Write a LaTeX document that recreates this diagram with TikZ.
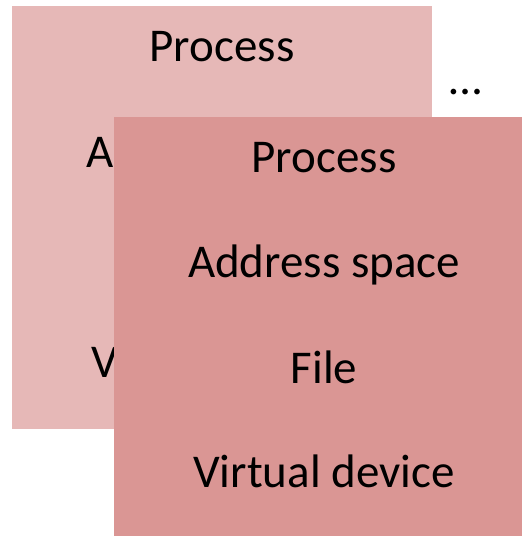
\documentclass[tikz,border=0pt]{standalone}
\usepackage{fontspec}
\setmainfont{Carlito}
\definecolor{backred}{HTML}{E6B8B7}
\definecolor{frontred}{HTML}{DA9694}

\begin{document}
\begin{tikzpicture}[x=1pt,y=-1pt]
                \tikzstyle{panel}=[draw=none, inner sep=0pt, anchor=north west, minimum width=420pt, minimum height=423pt]
                \tikzstyle{item}=[inner sep=0pt, anchor=base, font=\fontsize{47}{56}\selectfont]
                \useasboundingbox (0,0) rectangle (522,536);
                \clip (0,0) rectangle (522,536);
                % back process
                \node (backbox)  [panel, fill=backred]   at (12,6)    {};
                \node (bproc)    [item]                  at (222,61)  {Process};
                \node (baddr)    [item]                  at (222,167) {Address space};
                \node (bfile)    [item]                  at (222,272) {File};
                \node (bdev)     [item]                  at (222,377) {Virtual device};
                \node (more)     [item]                  at (466,94)  {…};
                % front process
                \node (frontbox) [panel, fill=frontred]  at (114,117) {};
                \node (fproc)    [item]                  at (324,172) {Process};
                \node (faddr)    [item]                  at (324,277) {Address space};
                \node (ffile)    [item]                  at (324,383) {File};
                \node (fdev)     [item]                  at (324,487) {Virtual device};
            \end{tikzpicture}
\end{document}
